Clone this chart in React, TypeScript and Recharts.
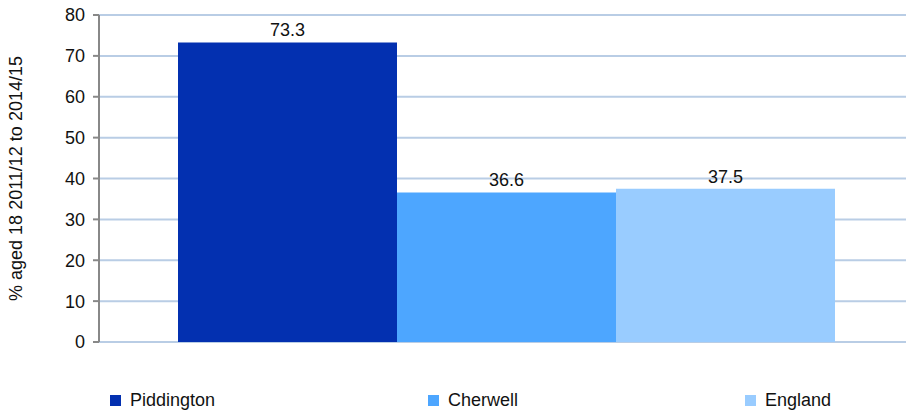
import { Bar, BarChart, CartesianGrid, LabelList, Legend, XAxis, YAxis } from "recharts";

const seriesNames = ["Piddington", "Cherwell", "England"];
const seriesValues = [73.3, 36.6, 37.5];
const seriesColors = ["#0330B0", "#4DA6FF", "#99CCFF"];
const yTicks = [0, 10, 20, 30, 40, 50, 60, 70, 80];

const row: Record<string, string | number> = { name: "" };
seriesNames.forEach((n, i) => {
    row[n] = seriesValues[i];
});
const data = [row];

const legendX = [110, 428, 745];
const font = "Liberation Sans, Arial, sans-serif";

function ChartLegend() {
    return (
        <div style={{ position: "relative", width: 906, height: 24 }}>
            {seriesNames.map((n, i) => (
                <div
                    key={n}
                    style={{
                        position: "absolute",
                        left: legendX[i],
                        top: 0,
                        display: "flex",
                        alignItems: "center",
                        fontFamily: font,
                        fontSize: 18,
                        lineHeight: "24px",
                        color: "#111",
                    }}
                >
                    <span style={{ width: 11, height: 11, background: seriesColors[i], marginRight: 9, display: "inline-block" }} />
                    {n}
                </div>
            ))}
        </div>
    );
}

export default function App() {
    return (
        <div style={{ position: "absolute", left: 0, top: 0, width: 906, height: 410, background: "#fff" }}>
            <BarChart
                width={906}
                height={410}
                data={data}
                margin={{ top: 15, right: 0, bottom: 44, left: 0 }}
                barCategoryGap={72}
                barGap={0}
                style={{ fontFamily: font }}
            >
                <CartesianGrid vertical={false} stroke="#B9CDE5" strokeWidth={2} />
                <XAxis dataKey="name" hide padding={{ left: 7, right: 0 }} />
                <YAxis
                    width={99}
                    domain={[0, 80]}
                    ticks={yTicks}
                    interval={0}
                    tickSize={6}
                    tickMargin={8}
                    axisLine={{ stroke: "#888", strokeWidth: 2 }}
                    tickLine={{ stroke: "#888", strokeWidth: 2 }}
                    tick={{ fill: "#111", fontSize: 18 }}
                    label={{
                        value: "% aged 18 2011/12 to 2014/15",
                        angle: -90,
                        position: "insideLeft",
                        offset: 16,
                        style: { textAnchor: "middle", fill: "#111", fontSize: 18 },
                    }}
                />
                <Legend
                    content={() => <ChartLegend />}
                    wrapperStyle={{ position: "absolute", left: 0, top: 388, width: 906 }}
                />
                {seriesNames.map((n, i) => (
                    <Bar key={n} dataKey={n} fill={seriesColors[i]} isAnimationActive={false}>
                        <LabelList dataKey={n} position="top" offset={6} fill="#111" fontSize={18} />
                    </Bar>
                ))}
            </BarChart>
        </div>
    );
}
